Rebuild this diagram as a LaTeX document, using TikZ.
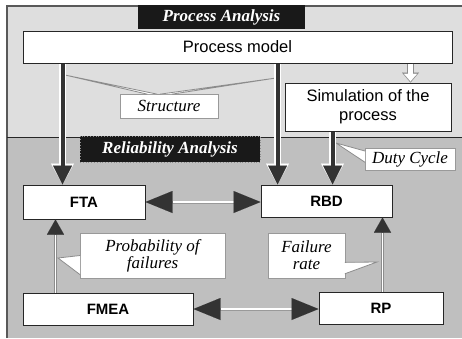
\documentclass[tikz,border=0pt]{standalone}
\usepackage{fontspec}
\setmainfont{Liberation Serif}
\setsansfont{Liberation Sans}
\usetikzlibrary{arrows.meta,positioning,calc}

\tikzset{
  box/.style={draw=black!85, line width=1pt, fill=white, inner sep=0pt, align=center,
    font=\sffamily\fontsize{16.5}{19}\selectfont},
  unit/.style={box, font=\sffamily\bfseries\fontsize{15}{15}\selectfont},
  tag/.style={fill=black!90, text=white, inner sep=0pt,
    font=\bfseries\itshape\fontsize{17}{17}\selectfont},
  note/.style={draw=black!40, fill=white, line width=0.7pt, inner sep=0pt, align=center,
    font=\itshape\fontsize{17}{17}\selectfont},
  wedge/.style={fill=white, draw=black!45, line width=0.8pt},
  heavy/.style={draw=black!80, line width=4pt,
    -{Triangle[length=19pt,width=19pt,line width=0.01pt]},
    preaction={draw=white, line width=6.5pt,
      -{Triangle[length=21pt,width=23pt,line width=0.01pt]}}},
  hollow/.style={draw=white, line width=4.5pt, shorten >=1.2pt,
    -{Triangle[length=7.5pt,width=13pt,line width=0.01pt]},
    preaction={draw=black!45, line width=7pt, shorten >=0pt,
      -{Triangle[length=10pt,width=17pt,line width=0.01pt]}}},
  link/.style={draw=white, line width=1.4pt,
    {Triangle[length=27pt,width=22pt,color=black!80,line width=0.01pt]}-{Triangle[length=27pt,width=22pt,color=black!80,line width=0.01pt]},
    preaction={draw=black!40, line width=3pt, -, shorten >=25pt, shorten <=25pt}},
  rise/.style={draw=white, line width=1.6pt,
    -{Triangle[length=15pt,width=17pt,color=black!80,line width=0.01pt]},
    preaction={draw=black!45, line width=3.4pt, -, shorten >=13pt}}
}

\begin{document}
\begin{tikzpicture}[x=1pt,y=-1pt]
\useasboundingbox (0,0) rectangle (462,338);
% the two bands
\fill[black!13] (7,6) rectangle (462,137);
\fill[black!25] (7,137) rectangle (462,338);
\draw[black!65, line width=1.2pt] (7,338) -- (7,6) -- (462,6);
\draw[black!85, line width=0.9pt] (7,137) -- (462,137);

\node[tag, minimum width=167pt, minimum height=24pt] (pa) at (221.5,17) {Process Analysis};
\node[tag, draw=black!45, dotted, line width=0.8pt, minimum width=180pt, minimum height=26pt] (ra) at (170,149) {Reliability Analysis};

% process side
\node[box, minimum width=429pt, minimum height=32pt] (pm) at (237.5,47) {Process model};
\node[box, minimum width=166pt, minimum height=48pt] (sim) at (368,107) {Simulation of the\\process};

% reliability side
\node[unit, minimum width=122pt, minimum height=34pt] (fta) at (84,202) {FTA};
\node[unit, minimum width=131pt, minimum height=32pt] (rbd) at (326.5,201) {RBD};
\node[unit, minimum width=170pt, minimum height=32pt] (fmea) at (108,309) {FMEA};
\node[unit, minimum width=124pt, minimum height=32pt] (rp) at (381,308) {RP};

% callouts
\node[note, minimum width=98pt, minimum height=24pt] (str) at (169,106) {Structure};
\node[note, minimum width=90pt, minimum height=22pt] (duty) at (410,159) {Duty Cycle};
\node[note, minimum width=145pt, minimum height=45pt] (prob) at (152.5,255.5) {Probability of\\failures};
\node[note, minimum width=77pt, minimum height=45pt] (frate) at (306.5,255.5) {Failure\\rate};

\coordinate (strA) at (65,75);
\coordinate (strB) at (276,78);
\coordinate (dutyT) at (336,143);
\coordinate (probT) at (58,258);
\coordinate (frateT) at (377,262);
\path[wedge] ($(str.north west)!0.28!(str.north east)+(0,0.5)$) -- (strA) -- ($(str.north west)!0.38!(str.north east)+(0,0.5)$);
\path[wedge] ($(str.north west)!0.41!(str.north east)+(0,0.5)$) -- (strB) -- ($(str.north west)!0.53!(str.north east)+(0,0.5)$);
\path[wedge] ($(duty.north west)!0.15!(duty.south west)+(0.5,0)$) -- (dutyT) -- ($(duty.north west)!0.65!(duty.south west)+(0.5,0)$);
\path[wedge] ($(prob.north west)!0.5!(prob.south west)+(0.5,0)$) -- (probT) -- ($(prob.north west)!0.92!(prob.south west)+(0.5,0)$);
\path[wedge] ($(frate.north east)!0.65!(frate.south east)+(-0.5,0)$) -- (frateT) -- ($(frate.north east)!0.9!(frate.south east)+(-0.5,0)$);

% connectors
\coordinate (ftaIn) at ([xshift=40pt]fta.north west);
\coordinate (rbdIn) at ([xshift=17pt]rbd.north west);
\coordinate (rbdDuty) at ([xshift=72pt]rbd.north west);
\coordinate (simIn) at ([xshift=126pt]sim.north west);
\coordinate (ftaUp) at ([xshift=33pt]fta.south west);
\coordinate (rbdUp) at ([xshift=-10pt]rbd.south east);
\draw[heavy] (ftaIn |- pm.south) -- (ftaIn);
\draw[heavy] (rbdIn |- pm.south) -- (rbdIn);
\draw[heavy] (rbdDuty |- sim.south) -- (rbdDuty);
\draw[hollow] (simIn |- pm.south) -- (simIn);
\draw[link] (fta.east) -- (fta.east -| rbd.west);
\draw[link] (fmea.east) -- (fmea.east -| rp.west);
\draw[rise] (ftaUp |- fmea.north) -- (ftaUp);
\draw[rise] (rbdUp |- rp.north) -- (rbdUp);
\end{tikzpicture}
\end{document}
